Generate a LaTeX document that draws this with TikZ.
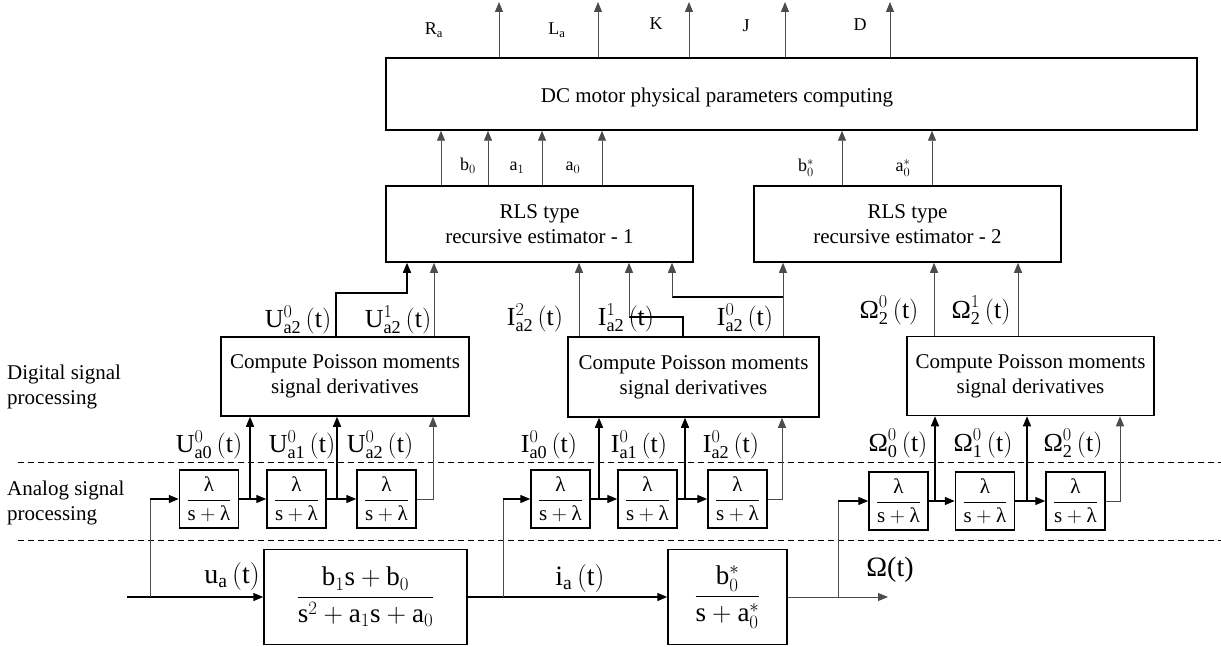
\RequirePackage{fix-cm}
\documentclass[tikz,border=0pt]{standalone}
\usepackage{amsmath}
\usepackage{fontspec}
\setmainfont{Liberation Serif}
\usetikzlibrary{arrows.meta}
\newcommand\mysig[3]{$\mathrm{#1}^{#2}_{\mathrm{#3}}\,(\mathrm{t})$}
\newcommand\myfrac{$\dfrac{\text{λ}}{\mathrm{s}+\text{λ}}$}
\tikzset{
 box/.style={draw, line width=1.5pt, inner sep=0pt, align=center},
 filt/.style={box, minimum width=59pt, minimum height=58pt},
 thk/.style={line width=1.4pt},
 thn/.style={line width=0.8pt, black!70},
 arr/.style={-{Triangle[length=10pt,width=8pt]}},
 lbl/.style={inner sep=0pt},
 small/.style={font=\fontsize{18}{20}\selectfont},
 sigf/.style={inner sep=0pt, anchor=base, font=\fontsize{26}{28}\selectfont},
 dsh/.style={line width=0.8pt, dash pattern=on 6pt off 4pt},
}
\begin{document}
\begin{tikzpicture}[x=1pt,y=-1pt,font=\fontsize{21}{25}\selectfont]
\useasboundingbox (0,0) rectangle (1221,647);
% separators
\coordinate (d1a) at (18,462); \coordinate (d1b) at (1221,462);
\coordinate (d2a) at (18,540); \coordinate (d2b) at (1221,540);
\draw[dsh] (d1a) -- (d1b);
\draw[dsh] (d2a) -- (d2b);
\node[lbl, anchor=west, align=left] (dig) at (7,387) {Digital signal\\processing};
\node[lbl, anchor=west, align=left] (ana) at (7,503) {Analog signal\\processing};
% main boxes
\node[box, minimum width=811pt, minimum height=72pt] (dc) at (791.5,94) {};
\node[lbl] (dctxt) at (717,97) {DC motor physical parameters computing};
\node[box, minimum width=307pt, minimum height=76pt] (rls1) at (539.5,224) {RLS type\\recursive estimator - 1};
\node[box, minimum width=307pt, minimum height=76pt] (rls2) at (907.5,224) {RLS type\\recursive estimator - 2};
\node[box, minimum width=248pt, minimum height=79pt] (p1) at (345,376.5) {Compute Poisson moments\\signal derivatives};
\node[box, minimum width=251pt, minimum height=80pt] (p2) at (693.5,377) {Compute Poisson moments\\signal derivatives};
\node[box, minimum width=247pt, minimum height=79pt] (p3) at (1030.5,376) {Compute Poisson moments\\signal derivatives};
% filters
\node[filt] (a1) at (209,499) {\myfrac};
\node[filt] (a2) at (296.5,499) {\myfrac};
\node[filt] (a3) at (386.5,499) {\myfrac};
\node[filt] (b1) at (560.5,499) {\myfrac};
\node[filt] (b2) at (647.5,499) {\myfrac};
\node[filt] (b3) at (737.5,499) {\myfrac};
\node[filt] (c1) at (898.5,501) {\myfrac};
\node[filt] (c2) at (985,501) {\myfrac};
\node[filt] (c3) at (1075.5,501) {\myfrac};
% plant blocks
\node[box, minimum width=203pt, minimum height=95pt, font=\fontsize{27}{30}\selectfont] (pl) at (365.5,597)
  {$\dfrac{\mathrm{b}_1\mathrm{s}+\mathrm{b}_0}{\mathrm{s}^2+\mathrm{a}_1\mathrm{s}+\mathrm{a}_0}$};
\node[box, minimum width=119pt, minimum height=95pt, font=\fontsize{27}{30}\selectfont] (bk) at (727.5,597)
  {$\dfrac{\mathrm{b}_0^{*}}{\mathrm{s}+\mathrm{a}_0^{*}}$};
% bottom path
\coordinate (uin) at (127,597);
\coordinate (uout) at (888,597);
\coordinate (ub) at (150,597);
\coordinate (ib) at (503,597);
\coordinate (ob) at (838,597);
\draw[thk,arr] (uin) -- (pl.west);
\draw[thk,arr] (pl.east) -- (bk.west);
\draw[thn,arr] (bk.east) -- (uout);
\draw[thn] (ub) -- (ub |- a1.west);
\draw[thk,arr] (ub |- a1.west) -- (a1.west);
\draw[thn] (ib) -- (ib |- b1.west);
\draw[thk,arr] (ib |- b1.west) -- (b1.west);
\draw[thn] (ob) -- (ob |- c1.west);
\draw[thk,arr] (ob |- c1.west) -- (c1.west);
% chains
\draw[thk,arr] (a1.east) -- (a2.west);
\draw[thk,arr] (a2.east) -- (a3.west);
\draw[thk,arr] (b1.east) -- (b2.west);
\draw[thk,arr] (b2.east) -- (b3.west);
\draw[thk,arr] (c1.east) -- (c2.west);
\draw[thk,arr] (c2.east) -- (c3.west);
% taps into Poisson boxes
\coordinate (ta1) at (250,499); \coordinate (ta2) at (337,499); \coordinate (ta3) at (433,499);
\coordinate (tb1) at (599,499); \coordinate (tb2) at (685,499); \coordinate (tb3) at (782,499);
\coordinate (tc1) at (935,501); \coordinate (tc2) at (1027,501); \coordinate (tc3) at (1120,501);
\draw[thk,arr] (ta1) -- (ta1 |- p1.south);
\draw[thk,arr] (ta2) -- (ta2 |- p1.south);
\draw[thn,arr] (a3.east) -- (ta3) -- (ta3 |- p1.south);
\draw[thk,arr] (tb1) -- (tb1 |- p2.south);
\draw[thk,arr] (tb2) -- (tb2 |- p2.south);
\draw[thn,arr] (b3.east) -- (tb3) -- (tb3 |- p2.south);
\draw[thk,arr] (tc1) -- (tc1 |- p3.south);
\draw[thk,arr] (tc2) -- (tc2 |- p3.south);
\draw[thn,arr] (c3.east) -- (tc3) -- (tc3 |- p3.south);
% Poisson outputs
\coordinate (s1) at (336,293); \coordinate (s1b) at (407,293);
\draw[thk,arr] (s1 |- p1.north) -- (s1) -- (s1b) -- (s1b |- rls1.south);
\coordinate (s2) at (434,300);
\draw[thn,arr] (s2 |- p1.north) -- (s2 |- rls1.south);
\coordinate (s3) at (579,300);
\draw[thn,arr] (s3 |- p2.north) -- (s3 |- rls1.south);
\coordinate (s4) at (683,317); \coordinate (s4b) at (629,317);
\draw[thk] (s4 |- p2.north) -- (s4) -- (s4b);
\draw[thn,arr] (s4b) -- (s4b |- rls1.south);
\coordinate (s5) at (783,297); \coordinate (s5b) at (672,297);
\draw[thn,arr] (s5 |- p2.north) -- (s5 |- rls2.south);
\draw[thk] (s5) -- (s5b);
\draw[thn,arr] (s5b) -- (s5b |- rls1.south);
\coordinate (s6) at (934,300); \coordinate (s7) at (1018,300);
\draw[thn,arr] (s6 |- p3.north) -- (s6 |- rls2.south);
\draw[thn,arr] (s7 |- p3.north) -- (s7 |- rls2.south);
% RLS outputs
\foreach \x in {441,488,542,602} {
  \coordinate (r) at (\x,200);
  \draw[thn,arr] (r |- rls1.north) -- (r |- dc.south);
}
\foreach \x in {842,932} {
  \coordinate (r) at (\x,200);
  \draw[thn,arr] (r |- rls2.north) -- (r |- dc.south);
}
% DC outputs
\foreach \x in {499,598,689,785,890} {
  \coordinate (o) at (\x,2);
  \draw[thn,arr] (o |- dc.north) -- (o);
}
% top labels
\node[small, lbl, anchor=base] (lRa) at (434,35) {R$_\mathrm{a}$};
\node[small, lbl, anchor=base] (lLa) at (557,35) {L$_\mathrm{a}$};
\node[small, lbl, anchor=base] (lK) at (656,30) {K};
\node[small, lbl, anchor=base] (lJ) at (746,32) {J};
\node[small, lbl, anchor=base] (lD) at (860,31) {D};
\node[small, lbl, anchor=base] (lb0) at (468,171) {b$_0$};
\node[small, lbl, anchor=base] (la1) at (517,171) {a$_1$};
\node[small, lbl, anchor=base] (la0) at (573,171) {a$_0$};
\node[small, lbl, anchor=base] (lb0s) at (806,172) {b$_0^*$};
\node[small, lbl, anchor=base] (la0s) at (903,172) {a$_0^*$};
% Poisson output labels
\node[sigf] (lu20) at (298,327) {\mysig{U}{0}{a2}};
\node[sigf] (lu21) at (398,327) {\mysig{U}{1}{a2}};
\node[sigf] (li22) at (535,325) {\mysig{I}{2}{a2}};
\node[sigf] (li21) at (626,325) {\mysig{I}{1}{a2}};
\node[sigf] (li20) at (745,325) {\mysig{I}{0}{a2}};
\node[sigf] (lo20) at (889,318) {\mysig{\text{Ω}}{0}{2}};
\node[sigf] (lo21) at (981,318) {\mysig{\text{Ω}}{1}{2}};
% filter output labels
\node[sigf] (lu0) at (209,452) {\mysig{U}{0}{a0}};
\node[sigf] (lu1) at (302,452) {\mysig{U}{0}{a1}};
\node[sigf] (lu2) at (380,452) {\mysig{U}{0}{a2}};
\node[sigf] (li0) at (549,452) {\mysig{I}{0}{a0}};
\node[sigf] (li1) at (639,452) {\mysig{I}{0}{a1}};
\node[sigf] (li2) at (731,452) {\mysig{I}{0}{a2}};
\node[sigf] (lo0) at (898,451) {\mysig{\text{Ω}}{0}{0}};
\node[sigf] (lo1) at (983,451) {\mysig{\text{Ω}}{0}{1}};
\node[sigf] (lo2) at (1073,451) {\mysig{\text{Ω}}{0}{2}};
% bottom labels
\node[lbl, anchor=base, font=\fontsize{28}{30}\selectfont] (lua) at (232,583) {$\mathrm{u}_\mathrm{a}\,(\mathrm{t})$};
\node[lbl, anchor=base, font=\fontsize{28}{30}\selectfont] (lia) at (580,585) {$\mathrm{i}_\mathrm{a}\,(\mathrm{t})$};
\node[lbl, anchor=base, font=\fontsize{28}{30}\selectfont] (lom) at (890,576) {Ω(t)};
\end{tikzpicture}
\end{document}
